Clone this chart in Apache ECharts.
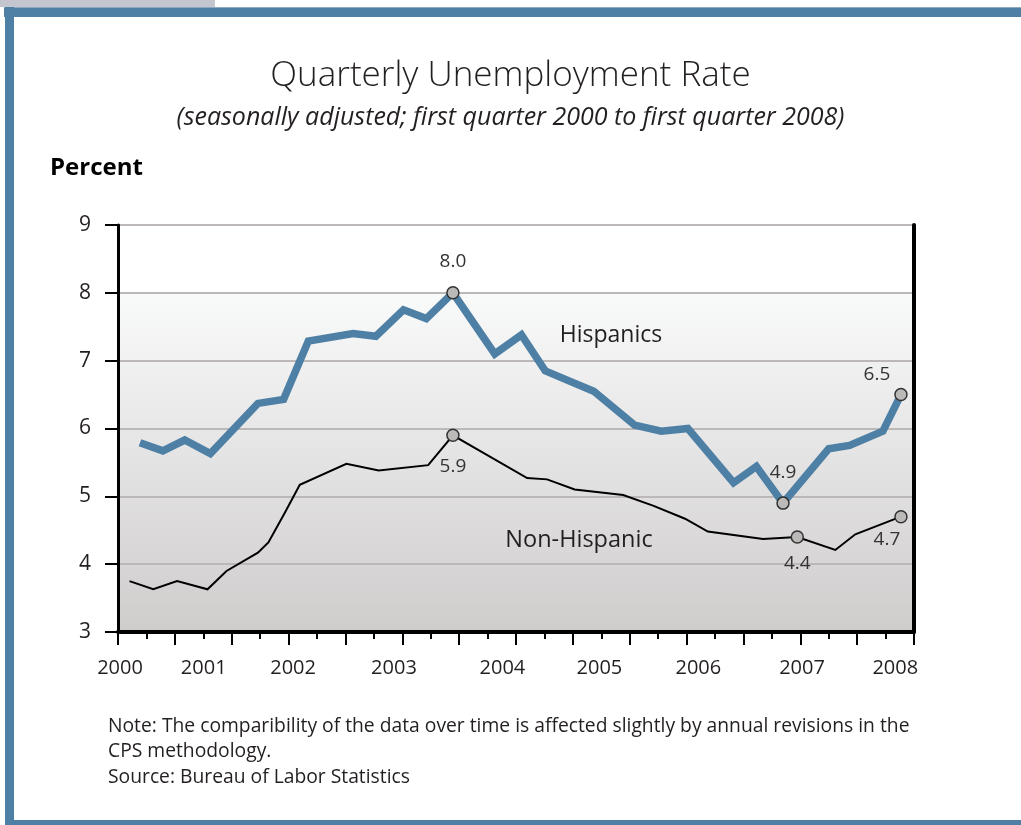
<!DOCTYPE html>
<html>
<head>
<meta charset="utf-8">
<title>Quarterly Unemployment Rate</title>
<script src="https://cdn.jsdelivr.net/npm/echarts@6/dist/echarts.min.js"></script>
<style>
  html, body { margin: 0; padding: 0; background: #ffffff; }
  #chart { width: 1021px; height: 825px; }
</style>
</head>
<body>
<div id="chart"></div>
<script>
// Quarterly unemployment rate, percent (decimal year, rate)
const hispYear = [2000.00, 2000.24, 2000.47, 2000.74, 2001.24, 2001.51, 2001.77, 2002.24, 2002.48,
  2002.77, 2003.01, 2003.29, 2003.73, 2004.01, 2004.26, 2004.77, 2005.20, 2005.48, 2005.76,
  2006.24, 2006.48, 2006.76, 2007.24, 2007.46, 2007.81, 2008.00];
const hispRate = [5.79, 5.67, 5.83, 5.63, 6.37, 6.43, 7.29, 7.40, 7.36,
  7.75, 7.62, 8.0, 7.10, 7.38, 6.85, 6.55, 6.05, 5.96, 6.00,
  5.20, 5.44, 4.9, 5.70, 5.75, 5.96, 6.5];

const nonHispYear = [1999.89, 2000.14, 2000.39, 2000.71, 2000.91, 2001.24, 2001.35, 2001.52, 2001.68,
  2002.17, 2002.51, 2003.03, 2003.29, 2004.07, 2004.28, 2004.57, 2005.08, 2005.40, 2005.73,
  2005.97, 2006.55, 2006.91, 2007.31, 2007.52, 2008.00];
const nonHispRate = [3.75, 3.63, 3.75, 3.63, 3.90, 4.17, 4.32, 4.75, 5.17,
  5.48, 5.38, 5.46, 5.9, 5.27, 5.25, 5.10, 5.02, 4.86, 4.67,
  4.48, 4.37, 4.4, 4.21, 4.44, 4.7];

// Points marked with a circle and their value
const hispCallouts = [11, 21, 25];
const nonHispCallouts = [12, 21, 24];

// Year tick labels
const yearLabels = ['2000', '2001', '2002', '2003', '2004', '2005', '2006', '2007', '2008'];
const yearLabelAt = [1999.79, 2000.67, 2001.61, 2002.67, 2003.81, 2004.83, 2005.87, 2006.96, 2007.94];

// Value axis ticks
const rateTicks = [3, 4, 5, 6, 7, 8, 9];

// Axis extent and tick layout
const xMin = 1999.769, xMax = 2008.137;
const tickSteps = 28;
const allTicks = Array.from({ length: tickSteps + 1 }, (_, i) => xMin + i * (xMax - xMin) / tickSteps);
const longTicks = allTicks.filter((_, i) => i % 2 === 0);
const shortTicks = allTicks.filter((_, i) => i % 2 === 1);

const FONT = '"Open Sans", "Noto Sans", sans-serif';
const BLUE = '#4e7fa5';
const TEXT = '#231f20';

// Label placement for circled points
const hispLabelStyle = {
  11: { position: 'top', distance: 15 },
  21: { position: 'top', distance: 14 },
  25: { position: 'top', distance: 4, offset: [-24, 0] }
};
const nonHispLabelStyle = {
  12: { position: 'bottom', distance: 15 },
  21: { position: 'bottom', distance: 10 },
  24: { position: 'bottom', distance: 7, offset: [-14, 0] }
};

function buildPoints(years, rates, callouts, labelStyle) {
  return years.map((yr, i) => {
    const item = { value: [yr, rates[i]] };
    if (callouts.includes(i)) {
      item.symbol = 'circle';
      item.symbolSize = 12;
      item.itemStyle = { color: '#bcb9b9', borderColor: '#333333', borderWidth: 1.5 };
      item.label = Object.assign({
        show: true,
        color: '#333333',
        fontFamily: FONT,
        fontSize: 19,
        formatter: (p) => p.value[1].toFixed(1)
      }, labelStyle[i]);
    }
    return item;
  });
}

const chart = echarts.init(document.getElementById('chart'), null, { renderer: 'canvas' });

const option = {
  animation: false,
  backgroundColor: '#ffffff',
  textStyle: { fontFamily: FONT },
  title: [
    {
      text: 'Quarterly Unemployment Rate',
      left: 'center',
      top: 54,
      textStyle: { fontFamily: FONT, fontSize: 35, fontWeight: 300, color: TEXT }
    },
    {
      text: '(seasonally adjusted; first quarter 2000 to first quarter 2008)',
      left: 'center',
      top: 100,
      textStyle: { fontFamily: FONT, fontSize: 25, fontStyle: 'italic', fontWeight: 'normal', color: TEXT }
    }
  ],
  grid: {
    left: 118,
    top: 225,
    width: 796,
    height: 407,
    show: true,
    borderWidth: 0,
    backgroundColor: {
      type: 'linear', x: 0, y: 0, x2: 0, y2: 1,
      colorStops: [
        { offset: 0, color: '#ffffff' },
        { offset: 0.166, color: '#ffffff' },
        { offset: 0.168, color: '#f9fafa' },
        { offset: 1, color: '#cfcccc' }
      ]
    }
  },
  xAxis: [
    {
      type: 'value',
      min: xMin,
      max: xMax,
      position: 'bottom',
      axisLine: { show: true, lineStyle: { color: '#000000', width: 4 } },
      axisTick: { show: true, customValues: longTicks, length: 13, lineStyle: { color: '#000000', width: 2 } },
      axisLabel: {
        show: true,
        customValues: yearLabelAt,
        margin: 26,
        fontFamily: FONT,
        fontSize: 20,
        color: TEXT,
        formatter: (v) => {
          let best = 0;
          yearLabelAt.forEach((p, i) => { if (Math.abs(p - v) < Math.abs(yearLabelAt[best] - v)) best = i; });
          return yearLabels[best];
        }
      },
      splitLine: { show: false }
    },
    {
      type: 'value',
      min: xMin,
      max: xMax,
      position: 'bottom',
      axisLine: { show: false },
      axisTick: { show: true, customValues: shortTicks, length: 7, lineStyle: { color: '#000000', width: 2 } },
      axisLabel: { show: false },
      splitLine: { show: false }
    }
  ],
  yAxis: [
    {
      type: 'value',
      min: rateTicks[0],
      max: rateTicks[rateTicks.length - 1],
      interval: 1,
      position: 'left',
      axisLine: { show: true, lineStyle: { color: '#000000', width: 3 } },
      axisTick: { show: true, length: 13, lineStyle: { color: '#000000', width: 2 } },
      axisLabel: { margin: 27, fontFamily: FONT, fontSize: 21, color: TEXT },
      splitLine: { show: true, lineStyle: { color: '#bcb8b8', width: 2 } }
    },
    {
      type: 'value',
      min: rateTicks[0],
      max: rateTicks[rateTicks.length - 1],
      interval: 1,
      position: 'right',
      axisLine: { show: true, lineStyle: { color: '#000000', width: 4 } },
      axisTick: { show: false },
      axisLabel: { show: false },
      splitLine: { show: false }
    }
  ],
  series: [
    {
      name: 'Non-Hispanic',
      type: 'line',
      xAxisIndex: 0,
      yAxisIndex: 0,
      symbol: 'none',
      showAllSymbol: true,
      z: 3,
      lineStyle: { color: '#000000', width: 2, join: 'miter' },
      data: buildPoints(nonHispYear, nonHispRate, nonHispCallouts, nonHispLabelStyle)
    },
    {
      name: 'Hispanics',
      type: 'line',
      xAxisIndex: 0,
      yAxisIndex: 0,
      symbol: 'none',
      showAllSymbol: true,
      z: 4,
      lineStyle: { color: BLUE, width: 7.5, join: 'miter', cap: 'butt' },
      data: buildPoints(hispYear, hispRate, hispCallouts, hispLabelStyle)
    }
  ],
  graphic: [
    // page frame
    { type: 'rect', silent: true, shape: { x: 0, y: 0, width: 215, height: 7 }, style: { fill: '#c3c6ce' } },
    { type: 'rect', silent: true, shape: { x: 4, y: 7, width: 1017, height: 10 }, style: { fill: BLUE } },
    { type: 'rect', silent: true, shape: { x: 4, y: 7, width: 1017, height: 1 }, style: { fill: '#8ea8be' } },
    { type: 'rect', silent: true, shape: { x: 5, y: 7, width: 9, height: 818 }, style: { fill: BLUE } },
    { type: 'rect', silent: true, shape: { x: 5, y: 820, width: 1016, height: 5 }, style: { fill: BLUE } },
    // axis name
    { type: 'text', silent: true, style: { text: 'Percent', x: 50, y: 168, textVerticalAlign: 'middle', font: 'bold 24px ' + FONT, fill: '#000000' } },
    // series names
    { type: 'text', silent: true, z: 10, style: { text: 'Hispanics', x: 611, y: 335, textAlign: 'center', textVerticalAlign: 'middle', font: '23px ' + FONT, fill: TEXT } },
    { type: 'text', silent: true, z: 10, style: { text: 'Non-Hispanic', x: 579, y: 540, textAlign: 'center', textVerticalAlign: 'middle', font: '23.5px ' + FONT, fill: TEXT } },
    // footnote
    { type: 'text', silent: true, style: { text: 'Note: The comparibility of the data over time is affected slightly by annual revisions in the', x: 108, y: 727, textVerticalAlign: 'middle', font: '19.3px ' + FONT, fill: TEXT } },
    { type: 'text', silent: true, style: { text: 'CPS methodology.', x: 108, y: 752, textVerticalAlign: 'middle', font: '19.3px ' + FONT, fill: TEXT } },
    { type: 'text', silent: true, style: { text: 'Source: Bureau of Labor Statistics', x: 108, y: 778, textVerticalAlign: 'middle', font: '19.3px ' + FONT, fill: TEXT } }
  ]
};

chart.setOption(option);
</script>
</body>
</html>
